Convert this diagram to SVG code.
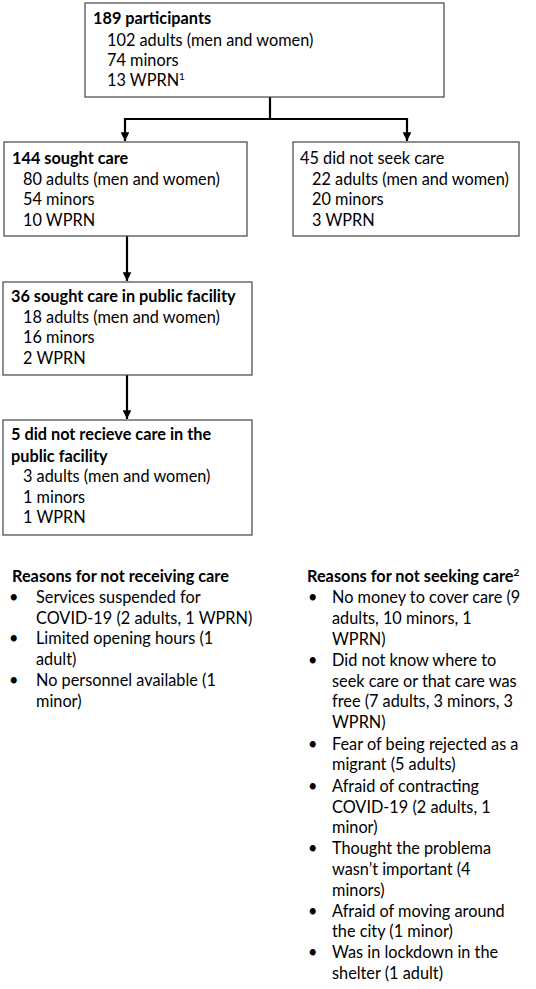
<svg xmlns="http://www.w3.org/2000/svg" width="536" height="989" viewBox="0 0 536 989">
<defs>
<marker id="arr" viewBox="0 0 10 10" refX="10" refY="5" markerWidth="4" markerHeight="4" orient="auto" markerUnits="strokeWidth">
<path d="M0,0 L10,5 L0,10 z" fill="#000"/>
</marker>
<style>
.box{fill:#fff;stroke:#444;stroke-width:1.2}
text{font-family:Lato,"Open Sans","Liberation Sans",sans-serif;font-size:16.3px;fill:#000}
.b{font-weight:bold}
.c{stroke:#000;stroke-width:2.2;fill:none}
</style>
</defs>
<rect width="536" height="989" fill="#fff"/>
<g id="connectors">
<path class="c" d="M270,97 V119"/>
<path class="c" d="M125,119 H407"/>
<path class="c" d="M125,118 V141" marker-end="url(#arr)"/>
<path class="c" d="M407,118 V141" marker-end="url(#arr)"/>
<path class="c" d="M127,236 V281" marker-end="url(#arr)"/>
<path class="c" d="M127,375 V419" marker-end="url(#arr)"/>
</g>
<g id="n189">
<rect class="box" x="85" y="3" width="359" height="94"/>
<text x="93" y="24" class="b">189 participants</text>
<text x="107" y="46">102 adults (men and women)</text>
<text x="107" y="66">74 minors</text>
<text x="107" y="86">13 WPRN<tspan font-size="10" dy="-6">1</tspan></text>
</g>
<g id="n144">
<rect class="box" x="4" y="142" width="243" height="94"/>
<text x="12" y="164" class="b">144 sought care</text>
<text x="23" y="185">80 adults (men and women)</text>
<text x="23" y="205">54 minors</text>
<text x="23" y="226">10 WPRN</text>
</g>
<g id="n45">
<rect class="box" x="293" y="142" width="226" height="94"/>
<text x="300" y="164">45 did not seek care</text>
<text x="312" y="185">22 adults (men and women)</text>
<text x="312" y="205">20 minors</text>
<text x="312" y="226">3 WPRN</text>
</g>
<g id="n36">
<rect class="box" x="3" y="282" width="249" height="93"/>
<text x="11" y="302" class="b">36 sought care in public facility</text>
<text x="23" y="323">18 adults (men and women)</text>
<text x="23" y="343">16 minors</text>
<text x="23" y="364">2 WPRN</text>
</g>
<g id="n5">
<rect class="box" x="3" y="420" width="249" height="115"/>
<text x="11" y="440" class="b">5 did not recieve care in the</text>
<text x="11" y="462" class="b">public facility</text>
<text x="23" y="482">3 adults (men and women)</text>
<text x="23" y="503">1 minors</text>
<text x="23" y="523">1 WPRN</text>
</g>
<g id="reasons-not-receiving">
<text x="12" y="582" class="b">Reasons for not receiving care</text>
<text x="9" y="603">•</text><text x="36" y="603">Services suspended for</text>
<text x="36" y="624">COVID-19 (2 adults, 1 WPRN)</text>
<text x="9" y="644">•</text><text x="36" y="644">Limited opening hours (1</text>
<text x="36" y="665">adult)</text>
<text x="9" y="686">•</text><text x="36" y="686">No personnel available (1</text>
<text x="36" y="707">minor)</text>
</g>
<g id="reasons-not-seeking">
<text x="307" y="582" class="b">Reasons for not seeking care<tspan font-size="10" dy="-6">2</tspan></text>
<text x="308" y="603">•</text><text x="332" y="603">No money to cover care (9</text>
<text x="332" y="624">adults, 10 minors, 1</text>
<text x="332" y="645">WPRN)</text>
<text x="308" y="666">•</text><text x="332" y="666">Did not know where to</text>
<text x="332" y="687">seek care or that care was</text>
<text x="332" y="707">free (7 adults, 3 minors, 3</text>
<text x="332" y="728">WPRN)</text>
<text x="308" y="750">•</text><text x="332" y="750">Fear of being rejected as a</text>
<text x="332" y="770">migrant (5 adults)</text>
<text x="308" y="792">•</text><text x="332" y="792">Afraid of contracting</text>
<text x="332" y="813">COVID-19 (2 adults, 1</text>
<text x="332" y="833">minor)</text>
<text x="308" y="854">•</text><text x="332" y="854">Thought the problema</text>
<text x="332" y="875">wasn’t important (4</text>
<text x="332" y="896">minors)</text>
<text x="308" y="917">•</text><text x="332" y="917">Afraid of moving around</text>
<text x="332" y="937">the city (1 minor)</text>
<text x="308" y="958">•</text><text x="332" y="958">Was in lockdown in the</text>
<text x="332" y="979">shelter (1 adult)</text>
</g>
</svg>
